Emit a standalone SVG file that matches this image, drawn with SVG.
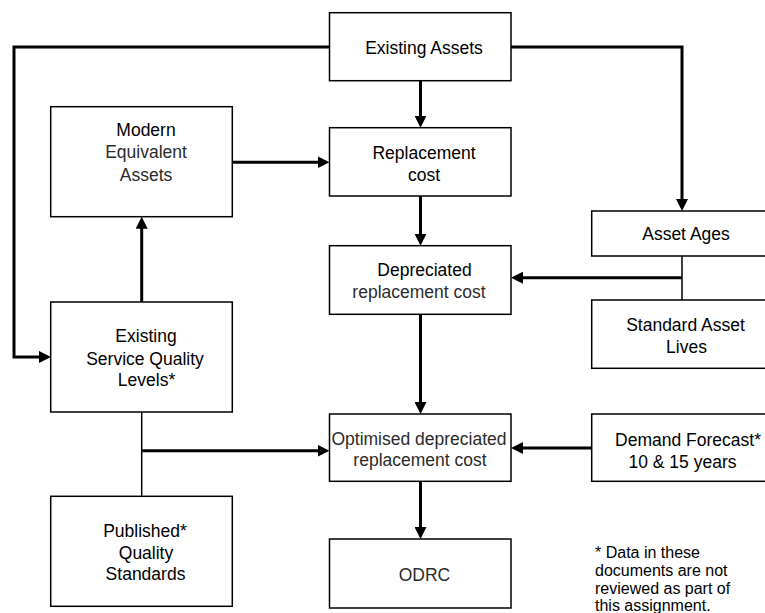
<svg xmlns="http://www.w3.org/2000/svg" width="765" height="613" viewBox="0 0 765 613">
<style>
.box{fill:#fff;stroke:#000;stroke-width:1.5}
.t{font-family:"Liberation Sans",Arial,sans-serif;font-size:17.5px;text-anchor:middle;fill:#000}
.l{fill:#2b2b2b}
.fn{font-family:"Liberation Sans",Arial,sans-serif;font-size:16px;fill:#000}
.c{fill:none;stroke:#000;stroke-width:3}
.th{fill:none;stroke:#000;stroke-width:1.5}
</style>
<defs>
<marker id="ah" markerUnits="userSpaceOnUse" markerWidth="12" markerHeight="12" refX="4" refY="6" orient="auto">
<path d="M0,0 L12,6 L0,12 z" fill="#000"/>
</marker>
</defs>
<rect width="765" height="613" fill="#fff"/>
<g id="connectors">
<polyline class="c" points="329.5,47 14,47 14,357 43,357" marker-end="url(#ah)"/>
<polyline class="c" points="511,47 682,47 682,203" marker-end="url(#ah)"/>
<line class="c" x1="420.5" y1="80.7" x2="420.5" y2="119.7" marker-end="url(#ah)"/>
<line class="c" x1="232.3" y1="162.3" x2="321.5" y2="162.3" marker-end="url(#ah)"/>
<line class="c" x1="420.5" y1="196" x2="420.5" y2="237.7" marker-end="url(#ah)"/>
<line class="c" x1="141.7" y1="302" x2="141.7" y2="224.7" marker-end="url(#ah)"/>
<line class="th" x1="682" y1="256" x2="682" y2="300"/>
<line class="c" x1="682" y1="277.7" x2="519" y2="277.7" marker-end="url(#ah)"/>
<line class="c" x1="420.5" y1="314.3" x2="420.5" y2="406" marker-end="url(#ah)"/>
<line class="th" x1="141.7" y1="412" x2="141.7" y2="496.3"/>
<line class="c" x1="141.7" y1="450.7" x2="321.5" y2="450.7" marker-end="url(#ah)"/>
<line class="c" x1="591.7" y1="448" x2="519" y2="448" marker-end="url(#ah)"/>
<line class="c" x1="420.5" y1="481.3" x2="420.5" y2="531" marker-end="url(#ah)"/>
</g>
<g id="existing-assets">
<rect class="box" x="329.5" y="12.7" width="181.5" height="68"/>
<text class="t" x="424" y="54.3">Existing Assets</text>
</g>
<g id="replacement-cost">
<rect class="box" x="329.5" y="127.7" width="181.5" height="68.3"/>
<text class="t" x="424" y="159">Replacement</text>
<text class="t" x="424" y="181">cost</text>
</g>
<g id="modern-equivalent-assets">
<rect class="box" x="50.7" y="106.7" width="181.6" height="110"/>
<text class="t" x="146" y="136">Modern</text>
<text class="t l" x="146" y="158.3">Equivalent</text>
<text class="t l" x="146" y="181">Assets</text>
</g>
<g id="existing-service-quality-levels">
<rect class="box" x="50.7" y="302" width="181.6" height="110"/>
<text class="t" x="146" y="342.3">Existing</text>
<text class="t" x="145" y="365">Service Quality</text>
<text class="t" x="146.5" y="386">Levels*</text>
</g>
<g id="published-quality-standards">
<rect class="box" x="50.7" y="496.3" width="181.6" height="110"/>
<text class="t" x="145" y="537.3">Published*</text>
<text class="t" x="146" y="558.5">Quality</text>
<text class="t" x="145.5" y="580">Standards</text>
</g>
<g id="depreciated-replacement-cost">
<rect class="box" x="329.5" y="245.7" width="181.5" height="68.6"/>
<text class="t" x="424.5" y="276">Depreciated</text>
<text class="t l" x="419" y="297.7">replacement cost</text>
</g>
<g id="asset-ages">
<rect class="box" x="591.7" y="211" width="192" height="45"/>
<text class="t" x="686" y="240">Asset Ages</text>
</g>
<g id="standard-asset-lives">
<rect class="box" x="591.7" y="300" width="192" height="68.3"/>
<text class="t" x="685.5" y="331">Standard Asset</text>
<text class="t" x="686.5" y="352.7">Lives</text>
</g>
<g id="optimised-depreciated-replacement-cost">
<rect class="box" x="329.5" y="414" width="181.5" height="67.3"/>
<text class="t l" x="419" y="444.7">Optimised depreciated</text>
<text class="t l" x="420" y="466.3">replacement cost</text>
</g>
<g id="demand-forecast">
<rect class="box" x="591.7" y="414" width="192" height="67.3"/>
<text class="t" x="688" y="446">Demand Forecast*</text>
<text class="t" x="682.5" y="468">10 &amp; 15 years</text>
</g>
<g id="odrc">
<rect class="box" x="329.5" y="539" width="181.5" height="69"/>
<text class="t l" x="424.5" y="580.7">ODRC</text>
</g>
<g id="footnote">
<text class="fn" x="595" y="557.5">* Data in these</text>
<text class="fn" x="595" y="575.5">documents are not</text>
<text class="fn" x="595" y="593.5">reviewed as part of</text>
<text class="fn" x="595" y="611">this assignment.</text>
</g>
</svg>
